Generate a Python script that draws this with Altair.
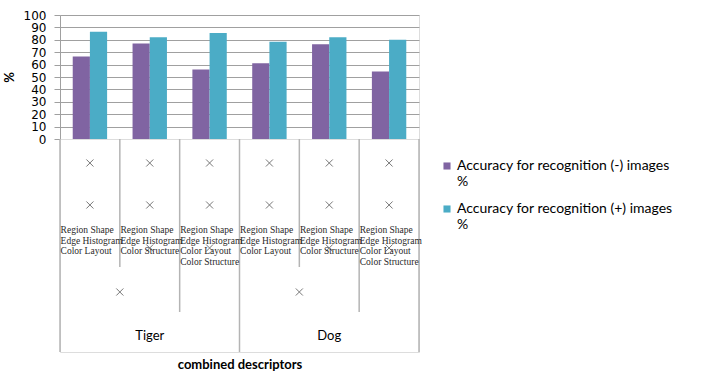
import altair as alt
import pandas as pd

# ---- data -------------------------------------------------------------
animals = ["Tiger", "Dog"]
descriptor_sets = [
    ["Region Shape", "Edge Histogram", "Color Layout"],
    ["Region Shape", "Edge Histogram", "Color Structure"],
    ["Region Shape", "Edge Histogram", "Color Layout", "Color Structure"],
]
neg_accuracy = [66.5, 77.0, 56.0, 61.0, 76.5, 54.5]
pos_accuracy = [86.5, 82.0, 85.5, 78.5, 82.0, 80.0]
series_names = [
    "Accuracy for recognition (-) images %",
    "Accuracy for recognition (+) images %",
]
series_colors = ["#8064A2", "#4BACC6"]
y_ticks = list(range(0, 101, 10))

group_ids = [f"g{i}" for i in range(len(animals) * len(descriptor_sets))]

bars = pd.DataFrame(
    [
        {"group": g, "series": s, "value": v}
        for s, vals in zip(series_names, [neg_accuracy, pos_accuracy])
        for g, v in zip(group_ids, vals)
    ]
)

# ---- layout of the multi-level category axis (rows measured downward) ---
PANEL_H = 213
row_marks_1 = 24
row_marks_2 = 66
row_labels = 91
line_step = 10.7
row_marks_3 = 109
row_marks_4 = 153
row_animal = 197
divider_depth = {0: PANEL_H, 3: PANEL_H, 6: PANEL_H, 2: 173, 5: 173, 1: 128, 4: 128}
marks_row3_groups = [1, 2, 4, 5]

n_groups = len(group_ids)
dividers = pd.DataFrame(
    [{"x": x, "y0": 0, "y1": d} for x, d in divider_depth.items()]
)
crosses = pd.DataFrame(
    [{"x": i + 0.5, "y": row_marks_1} for i in range(n_groups)]
    + [{"x": i + 0.5, "y": row_marks_2} for i in range(n_groups)]
    + [{"x": i + 0.5, "y": row_marks_3} for i in marks_row3_groups]
    + [{"x": a * 3 + 1.0, "y": row_marks_4} for a in range(len(animals))]
)
label_rows = []
for a in range(len(animals)):
    for j, items in enumerate(descriptor_sets):
        gi = a * len(descriptor_sets) + j
        for k, name in enumerate(items):
            label_rows.append({"x": gi + 0.01, "y": row_labels + k * line_step, "text": name})
labels = pd.DataFrame(label_rows)
animal_df = pd.DataFrame(
    [{"x": a * 3 + 1.5, "y": row_animal, "text": name} for a, name in enumerate(animals)]
)

# ---- bar chart --------------------------------------------------------
W = 359
color_scale = alt.Scale(domain=series_names, range=series_colors)

top = (
    alt.Chart(bars)
    .mark_bar()
    .encode(
        x=alt.X(
            "group:N",
            sort=group_ids,
            scale=alt.Scale(paddingInner=0, paddingOuter=0),
            axis=None,
        ),
        xOffset=alt.XOffset(
            "series:N", sort=series_names,
            scale=alt.Scale(paddingInner=0, paddingOuter=0.74),
        ),
        y=alt.Y(
            "value:Q",
            scale=alt.Scale(domain=[0, 100], nice=False),
            axis=alt.Axis(
                values=y_ticks, title="%", titleFont="Lato", titleFontSize=13,
                titleFontWeight="bold", titleColor="#000000", titlePadding=7,
                labelFont="DejaVu Sans", labelFontSize=12, labelColor="#000000",
                labelOverlap=False, labelPadding=8, tickSize=6, tickColor="#A0A0A0",
                domainColor="#A0A0A0", gridColor="#A0A0A0", gridWidth=1,
            ),
        ),
        color=alt.Color(
            "series:N", sort=series_names, scale=color_scale,
            legend=alt.Legend(
                title=None, orient="none", legendX=380, legendY=144,
                symbolType="square", symbolSize=50, symbolStrokeWidth=0,
                labelFont="Lato", labelFontSize=14, labelColor="#000000",
                labelLimit=300, rowPadding=13, labelOffset=3,
                labelExpr="[slice(datum.label, 0, -2), '%']",
            ),
        ),
    )
    .properties(width=W, height=124)
)

# ---- category axis panel ---------------------------------------------
xq = alt.Scale(domain=[0, n_groups], nice=False, zero=False)
yq = alt.Scale(domain=[0, PANEL_H], reverse=True, nice=False, zero=False)

rules = (
    alt.Chart(dividers)
    .mark_rule(color="#B4B4B4", strokeWidth=1.5)
    .encode(
        x=alt.X("x:Q", scale=xq, axis=alt.Axis(
            title="combined descriptors", labels=False, ticks=False, domain=False,
            grid=False, titleFont="Lato", titleFontSize=13, titleFontWeight="bold",
            titleColor="#000000", titlePadding=6,
        )),
        y=alt.Y("y0:Q", scale=yq, axis=None),
        y2="y1:Q",
    )
)

cross_marks = (
    alt.Chart(crosses)
    .mark_point(shape="M-1,-1L1,1M-1,1L1,-1", filled=False, size=50,
                color="#404040", strokeWidth=1)
    .encode(x=alt.X("x:Q", scale=xq), y=alt.Y("y:Q", scale=yq))
)

descriptor_text = (
    alt.Chart(labels)
    .mark_text(align="left", baseline="middle", font="Liberation Serif",
               fontSize=9.5, color="#2a2a2a")
    .encode(x=alt.X("x:Q", scale=xq), y=alt.Y("y:Q", scale=yq), text="text:N")
)

animal_text = (
    alt.Chart(animal_df)
    .mark_text(align="center", baseline="middle", font="Lato", fontSize=13,
               color="#000000")
    .encode(x=alt.X("x:Q", scale=xq), y=alt.Y("y:Q", scale=yq), text="text:N")
)

bottom = alt.layer(rules, cross_marks, descriptor_text, animal_text).properties(
    width=W, height=PANEL_H
)

chart = (
    alt.vconcat(top, bottom, spacing=0, bounds="flush")
    .properties(padding={"left": 2, "top": 8, "right": 5, "bottom": 2})
    .configure_view(stroke=None)
    .configure(background="white")
)

chart.save("out.html", embed_options={"renderer": "svg", "actions": False})
